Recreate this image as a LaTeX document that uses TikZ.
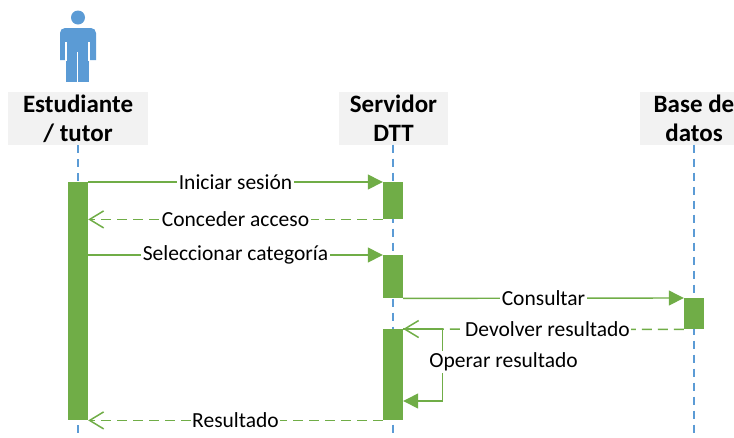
\documentclass[tikz,border=0pt]{standalone}
\usepackage{fontspec}
\setmainfont{Carlito}
\usetikzlibrary{arrows.meta}
\definecolor{actorblue}{HTML}{5B9BD5}
\definecolor{bargreen}{HTML}{70AD47}
\definecolor{hdrgray}{HTML}{F2F2F2}
\tikzset{
  hdr/.style={fill=hdrgray, minimum height=53, inner sep=0, align=center, font=\bfseries\fontsize{25}{29}\selectfont},
  life/.style={draw=actorblue, line width=1.2, dash pattern=on 8pt off 6pt},
  bar/.style={fill=bargreen, draw=none, minimum width=20, inner sep=0, anchor=north},
  msg/.style={draw=bargreen, line width=1.4, -{Triangle[length=15pt,width=15pt]}},
  ret/.style={draw=bargreen, line width=1.5, dash pattern=on 10pt off 6pt, -{Straight Barb[length=14pt,width=17pt]}},
  lbl/.style={fill=white, inner sep=1.5, font=\fontsize{21.5}{25}\selectfont}
}
\begin{document}
\begin{tikzpicture}[x=1pt, y=-1pt]
\useasboundingbox (0,0) rectangle (734,437);

\fill[actorblue] (78,17.5) circle (7);
\fill[actorblue] (60,60) {[rounded corners=5pt] -- (60,28) -- (96,28)} -- (96,60) -- cycle;
\fill[actorblue] (66,50) rectangle (89,82);
\draw[white, line width=1.2] (66,42) -- (66,61) (89,42) -- (89,61) (77.5,52) -- (77.5,83);

\node[hdr, minimum width=140] (est) at (78,118.5) {Estudiante\\/ tutor};
\node[hdr, minimum width=109] (srv) at (393.5,118) {Servidor\\DTT};
\node[hdr, minimum width=108] (bd) at (694,118) {Base de\\datos};

\draw[life] (est.south) -- (est.south |- 0,437);
\draw[life] (srv.south -| 393,0) -- (393,437);
\draw[life] (bd.south) -- (bd.south |- 0,437);

\node[bar, minimum height=238] (sb) at (78,182) {};
\node[bar, minimum height=37] (v1) at (393,182) {};
\node[bar, minimum height=43] (v2) at (393,255) {};
\node[bar, minimum height=91] (v3) at (393,329) {};
\node[bar, minimum height=31] (d1) at (694,298) {};

\draw[msg] (sb.north east) -- node[lbl]{Iniciar sesión} (v1.north west);
\draw[ret] (v1.south west) -- node[lbl]{Conceder acceso} (v1.south west -| sb.east);
\draw[msg] (v2.north west -| sb.east) -- node[lbl]{Seleccionar categoría} (v2.north west);
\draw[msg] (v2.south east) -- node[lbl]{Consultar} (d1.north west);
\draw[ret] (d1.south west) -- node[lbl, xshift=4]{Devolver resultado} (v3.north east);
\draw[msg] (v3.north east) -- ++(39,0) -- node[lbl, anchor=west, xshift=-15, pos=0.46]{Operar resultado} ++(0,72) -- ++(-39,0);
\draw[ret] (v3.south west) -- node[lbl]{Resultado} (sb.south east);
\end{tikzpicture}
\end{document}
